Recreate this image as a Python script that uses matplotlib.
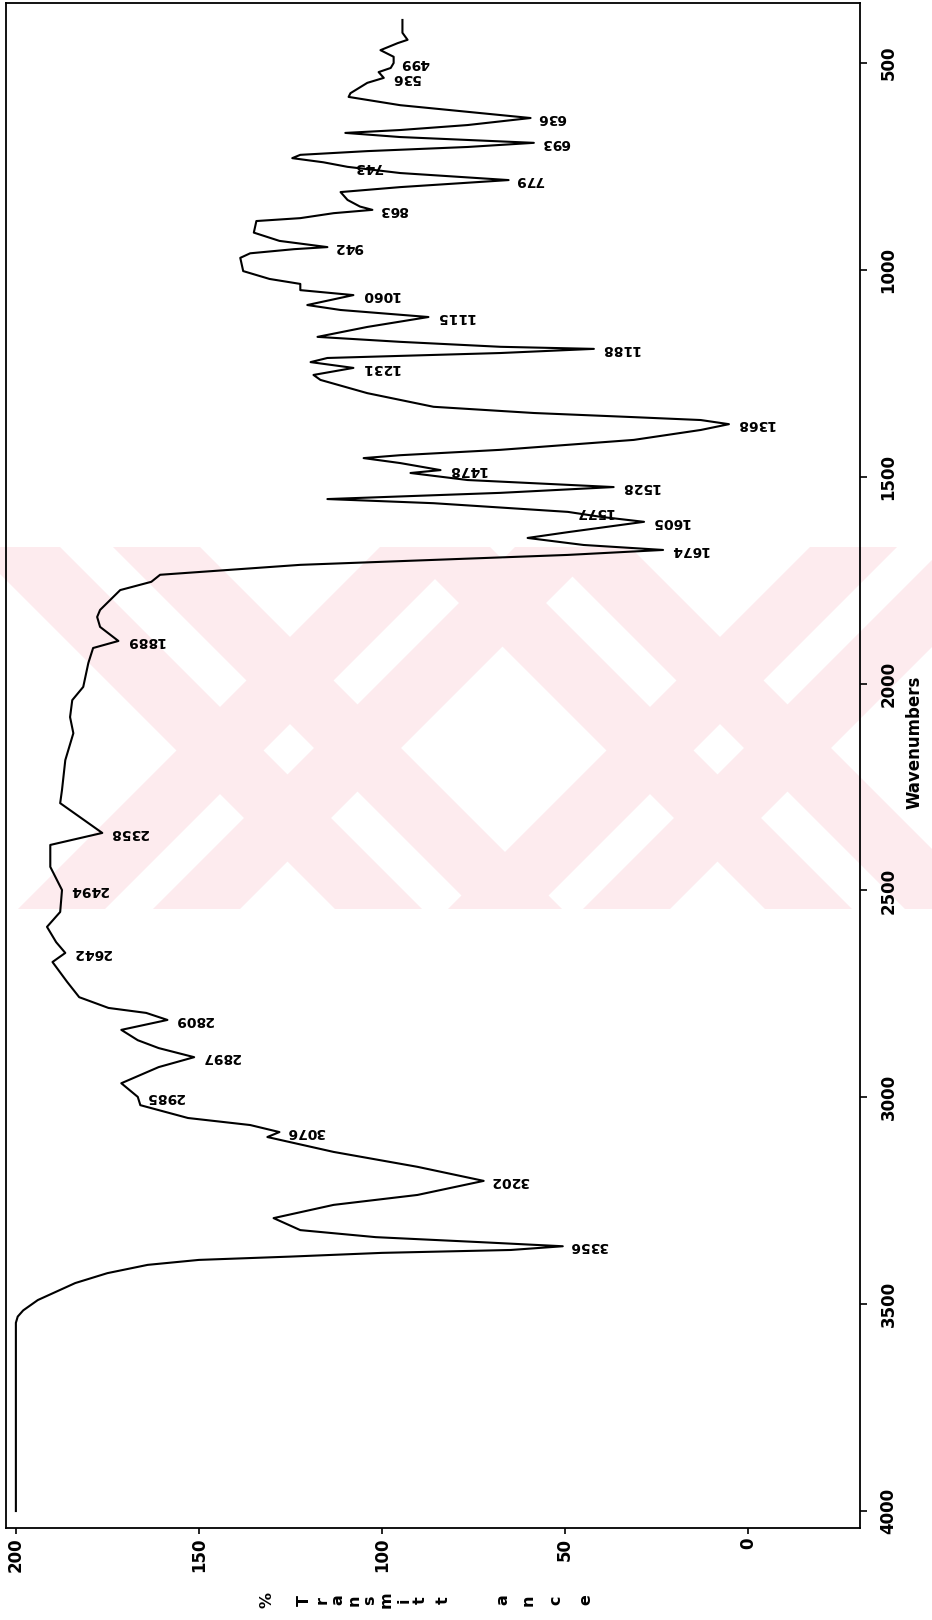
import matplotlib.pyplot as plt
import numpy as np
from matplotlib.patches import Polygon
from matplotlib.transforms import IdentityTransform, Bbox

plt.rcParams['font.family'] = ['DejaVu Sans']

# spectrum (wavenumber in cm-1, %T)
wavenumber = [396, 427, 444, 452, 469, 485, 500, 512, 522, 536, 548, 573, 582,
              602, 618, 633, 650, 662, 669, 679, 686, 693, 703, 713, 722, 730,
              740, 751, 766, 783, 800, 812, 831, 847, 855, 863, 875, 882, 910,
              930, 945, 950, 960, 971, 1003, 1022, 1034, 1049, 1061, 1085, 1097,
              1114, 1138, 1162, 1174, 1186, 1191, 1201, 1208, 1213, 1223, 1237,
              1254, 1266, 1298, 1331, 1346, 1356, 1363, 1373, 1387, 1411, 1435,
              1448, 1455, 1467, 1484, 1491, 1508, 1525, 1539, 1554, 1564, 1585,
              1597, 1609, 1634, 1648, 1665, 1677, 1689, 1701, 1713, 1737, 1754,
              1774, 1822, 1839, 1863, 1897, 1914, 1950, 2008, 2040, 2081, 2120,
              2185, 2257, 2289, 2337, 2361, 2390, 2443, 2499, 2552, 2588, 2625,
              2651, 2673, 2721, 2758, 2784, 2796, 2813, 2837, 2862, 2881, 2903,
              2927, 2966, 2999, 3019, 3050, 3067, 3084, 3096, 3132, 3168, 3202,
              3236, 3260, 3292, 3321, 3338, 3350, 3360, 3369, 3376, 3385, 3393,
              3405, 3425, 3449, 3466, 3490, 3515, 3530, 3545, 4000]
transmittance = [94.4, 94.4, 93.0, 95.7, 100.4, 96.8, 96.8, 97.6, 100.9, 99.5, 104, 108.6, 109.1,
                 95, 76.6, 59.4, 76.6, 95, 110, 95, 76.6, 58.5, 76.6, 104, 122.3, 124.5,
                 116, 109.4, 95, 65.4, 95, 111.3, 109.4, 106, 102.6, 113.2, 122.3, 134.3, 135,
                 128, 114.9, 124, 136, 138.7, 137.9, 130.7, 122.3, 122.3, 107.8, 120.4, 111.3,
                 87.3, 104, 117.6, 95, 67.6, 42.1, 67.6, 95, 114.9, 119.5, 107.8,
                 118.7, 116.8, 104, 85.9, 58.5, 31.2, 12.9, 5.2, 12.9, 31.2, 67.6,
                 95, 105, 95, 84, 92.2, 76.6, 36.7, 67.6, 114.9, 85.9, 49.2,
                 40.2, 28.4, 49.2, 60.2, 44.9, 23.2, 49.2, 85.9, 122.3, 160.6, 163,
                 171.5, 177, 177.8, 177, 172, 178.9, 180.2, 181.6, 184.6, 185.2, 184.3,
                 186.5, 187.4, 187.9, 180.2, 176.4, 190.6, 190.6, 187.4, 187.9, 191.5, 189,
                 186.5, 190, 186, 182.7, 174.7, 164.4, 158.6, 171.2, 166.7, 161, 151.3,
                 161, 171.2, 166.7, 166, 153, 136, 128, 131.3, 113.2, 90.3, 72.2,
                 90.3, 113.2, 129.6, 122.3, 101.7, 73.3, 50.6, 64.8, 100, 125, 150,
                 164, 175, 183.8, 188, 194, 198, 199.5, 200, 200]

peak_text = ["499", "536", "636", "693", "743", "779", "863", "942", "1060", "1115",
             "1188", "1231", "1368", "1478", "1528", "1577", "1605", "1674", "1889",
             "2358", "2494", "2642", "2809", "2897", "2985", "3076", "3202", "3356"]
peak_wn = [500, 536, 633, 693, 751, 783, 855, 945, 1061, 1114,
           1191, 1237, 1373, 1484, 1525, 1585, 1609, 1677, 1897,
           2361, 2499, 2651, 2813, 2903, 2999, 3084, 3202, 3360]

wn_ticks = [500, 1000, 1500, 2000, 2500, 3000, 3500, 4000]
t_ticks = [200, 150, 100, 50, 0]
ylabel_letters = ["%", "T", "r", "a", "n", "s", "m", "i", "t", "t", "a", "n", "c", "e"]

W, H = 932, 1620
fig = plt.figure(figsize=(W / 100, H / 100), dpi=100)

# faint pink "XX" watermark behind the plot (pixel coords, top-left origin)
pink = "#fdebee"
wm_top, wm_bot = 547, 909
span = wm_bot - wm_top
clip = Bbox([[0, H - wm_bot], [W, H - wm_top]])


def stripe(x_left, x_right, slope):
    # slope +1 -> "\" going down-right, -1 -> "/" going down-left
    d = slope * span
    pts = [(x_left, H - wm_top), (x_right, H - wm_top),
           (x_right + d, H - wm_bot), (x_left + d, H - wm_bot)]
    p = Polygon(pts, closed=True, facecolor=pink, edgecolor="none",
                transform=IdentityTransform(), zorder=-2)
    p.set_clip_box(clip)
    fig.add_artist(p)


for cx in [290, 720]:
    # each stroke of the X is a double band: inner stripe, white gap, outer stripe
    stripe(cx - 177, cx - 90, +1)
    stripe(cx - 317, cx - 230, +1)
    stripe(cx + 90, cx + 177, -1)
    stripe(cx + 225, cx + 312, -1)

ax = fig.add_axes([6 / W, 1 - 1528 / H, (860 - 6) / W, (1528 - 3) / H])
ax.patch.set_alpha(0)

ax.plot(transmittance, wavenumber, color="black", lw=1.5)

ax.set_xlim(202.7, -30.6)
ax.set_ylim(4041, 355)

for s in ax.spines.values():
    s.set_linewidth(1.3)

ax.set_xticks(t_ticks)
ax.set_xticklabels([str(t) for t in t_ticks], rotation=90, fontsize=12,
                   fontweight="bold", va="top")
ax.yaxis.tick_right()
ax.set_yticks(wn_ticks)
ax.set_yticklabels([str(w) for w in wn_ticks], rotation=90, fontsize=12,
                   fontweight="bold", va="center")
ax.tick_params(axis="y", direction="out", length=5, width=1.2, pad=9)
ax.tick_params(axis="x", direction="out", length=4.5, width=1.2, pad=2.5)

fig.text(915 / W, 1 - 742 / H, "Wavenumbers", rotation=90, fontsize=12,
         fontweight="bold", ha="center", va="center")

letter_x = [267, 304, 322, 338, 354, 370, 386, 404, 420, 443, 503, 528, 556, 586]
for ch, lx in zip(ylabel_letters, letter_x):
    fig.text(lx / W, 1 - 1600 / H, ch, rotation=90, fontsize=11.5, fontweight="bold",
             ha="center", va="center")

peak_t = np.interp(peak_wn, wavenumber, transmittance)
for txt, pw, pt in zip(peak_text, peak_wn, peak_t):
    ax.annotate(txt, xy=(pt, pw), xytext=(5, 0), textcoords="offset points",
                rotation=180, fontsize=10, fontweight="bold", ha="left", va="center")

fig.savefig("out.png", dpi=100)
